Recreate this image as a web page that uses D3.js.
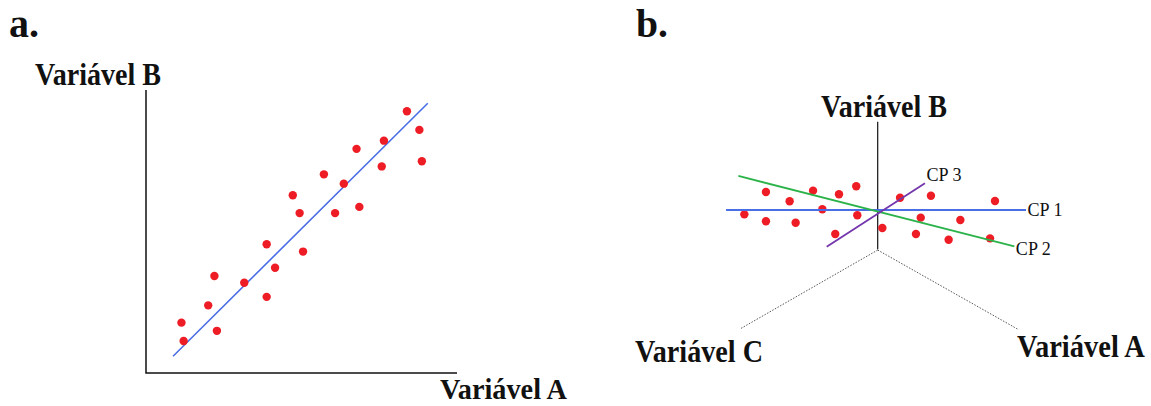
<!DOCTYPE html>
<html>
<head>
<meta charset="utf-8">
<script src="https://cdn.jsdelivr.net/npm/d3@7"></script>
<style>
  body { margin: 0; background: #fff; }
  svg { display: block; }
  .lbl { font-family: "Liberation Serif", "DejaVu Serif", serif; font-weight: bold; fill: #111; }
  .cp { font-family: "Liberation Serif", "DejaVu Serif", serif; fill: #111; }
</style>
</head>
<body>
<div id="chart"></div>
<script>
const width = 1151;
const height = 406;

// panel a: scatter of Variável A vs Variável B, with fitted line
const pointsA = [
  [1.14, 1.78], [1.21, 1.13], [2.2, 3.43], [2.0, 2.39], [2.28, 1.49],
  [3.16, 3.19], [3.88, 4.55], [4.15, 3.72], [3.88, 2.69], [4.72, 6.28],
  [4.94, 5.65], [5.05, 4.29], [5.72, 7.02], [6.36, 6.69], [6.08, 5.65],
  [6.86, 5.87], [6.77, 7.92], [7.65, 8.21], [7.58, 7.3], [8.39, 9.25],
  [8.79, 8.59], [8.87, 7.48],
];
const fitLineA = [[0.87, 0.59], [9.06, 9.53]];

// panel b: projected 3D view, points and principal components
const pointsB = [
  [-8.89, -0.29], [-7.45, 1.2], [-7.45, -0.75], [-5.87, 0.58], [-5.47, -0.85],
  [-4.31, 1.29], [-3.69, 0.05], [-2.58, 1.05], [-1.43, 1.58], [-1.36, -0.35],
  [-2.83, -1.6], [0.31, -1.2], [1.49, 0.82], [3.55, 0.95], [2.87, -0.51],
  [2.55, -1.6], [4.73, -1.98], [5.51, -0.67], [7.49, -1.89], [7.82, 0.6],
];
const axisOrigin = [0, -2.67];
const axisB = [[0, -2.62], [0, 5.89]];
const axisA = [9.31, -7.93];
const axisC = [-9.18, -7.93];
const components = [
  { name: "CP 1", color: "#4a6ee6", ends: [[-10.11, 0], [9.89, 0]], dy: 6 },
  { name: "CP 2", color: "#2bb34a", ends: [[-9.29, 2.27], [9.11, -2.42]], dy: 8.5 },
  { name: "CP 3", color: "#7436ad", ends: [[-3.4, -2.45], [3.15, 1.78]], dy: -2 },
];

const red = "#ee1c25";

const svg = d3.select("#chart").append("svg")
  .attr("width", width)
  .attr("height", height);

// ---- panel a ----
const xA = d3.scaleLinear().domain([0, 10]).range([146, 457]);
const yA = d3.scaleLinear().domain([0, 10]).range([373, 90]);

const gA = svg.append("g").attr("class", "panel-a");

gA.append("path")
  .attr("d", `M${xA(0)},${yA(10)}V${yA(0)}H${xA(10)}`)
  .attr("fill", "none")
  .attr("stroke", "#111")
  .attr("stroke-width", 1.5);

gA.append("line")
  .attr("x1", xA(fitLineA[0][0])).attr("y1", yA(fitLineA[0][1]))
  .attr("x2", xA(fitLineA[1][0])).attr("y2", yA(fitLineA[1][1]))
  .attr("stroke", "#4a6ee6")
  .attr("stroke-width", 1.6);

gA.selectAll(".dot")
  .data(pointsA)
  .join("circle")
  .attr("class", "dot")
  .attr("cx", (d) => xA(d[0]))
  .attr("cy", (d) => yA(d[1]))
  .attr("r", 4.2)
  .attr("fill", red);

// ---- panel b ----
const xB = d3.scaleLinear().domain([-10, 10]).range([727.7, 1027.7]);
const yB = d3.scaleLinear().domain([-10, 10]).range([360, 60]);

const gB = svg.append("g").attr("class", "panel-b");

gB.selectAll(".dotted-axis")
  .data([axisA, axisC])
  .join("line")
  .attr("class", "dotted-axis")
  .attr("x1", xB(axisOrigin[0])).attr("y1", yB(axisOrigin[1]))
  .attr("x2", (d) => xB(d[0])).attr("y2", (d) => yB(d[1]))
  .attr("stroke", "#555")
  .attr("stroke-width", 1)
  .attr("stroke-dasharray", "1.5,1.5");

gB.append("line")
  .attr("x1", xB(axisB[0][0])).attr("y1", yB(axisB[0][1]))
  .attr("x2", xB(axisB[1][0])).attr("y2", yB(axisB[1][1]))
  .attr("stroke", "#111")
  .attr("stroke-width", 1.2);

gB.selectAll(".dot")
  .data(pointsB)
  .join("circle")
  .attr("class", "dot")
  .attr("cx", (d) => xB(d[0]))
  .attr("cy", (d) => yB(d[1]))
  .attr("r", 4.2)
  .attr("fill", red);

gB.selectAll(".cp-line")
  .data(components)
  .join("line")
  .attr("class", "cp-line")
  .attr("x1", (d) => xB(d.ends[0][0])).attr("y1", (d) => yB(d.ends[0][1]))
  .attr("x2", (d) => xB(d.ends[1][0])).attr("y2", (d) => yB(d.ends[1][1]))
  .attr("stroke", (d) => d.color)
  .attr("stroke-width", 1.8);

// squeeze a text horizontally to a target width (the original lettering is narrow)
const fitWidth = (sel, cls) => {
  sel.each(function (d) {
    const g = d3.select(this);
    const t = g.append("text")
      .attr("class", cls)
      .attr("font-size", d.size)
      .text(d.t);
    const natural = t.node().getComputedTextLength();
    g.attr("transform", `translate(${d.x},${d.y}) scale(${d.len / natural},1)`);
  });
};

const cpLabels = components.map((c) => ({
  t: c.name,
  x: xB(c.ends[1][0]) + 1.5,
  y: yB(c.ends[1][1]) + c.dy,
  size: 19,
  len: 35,
}));

gB.selectAll(".cp-g")
  .data(cpLabels)
  .join("g")
  .attr("class", "cp-g")
  .call(fitWidth, "cp");

// ---- labels ----
const labels = [
  { t: "a.", x: 9, y: 37, size: 40, len: 30 },
  { t: "b.", x: 636, y: 37, size: 40, len: 32 },
  { t: "Variável B", x: 35, y: 85, size: 31, len: 126 },
  { t: "Variável A", x: 440, y: 399, size: 29, len: 127 },
  { t: "Variável B", x: 821, y: 117, size: 31, len: 126 },
  { t: "Variável C", x: 635, y: 362, size: 31, len: 128 },
  { t: "Variável A", x: 1017, y: 357, size: 31, len: 128 },
];

svg.selectAll(".lbl-g")
  .data(labels)
  .join("g")
  .attr("class", "lbl-g")
  .call(fitWidth, "lbl");
</script>
</body>
</html>
